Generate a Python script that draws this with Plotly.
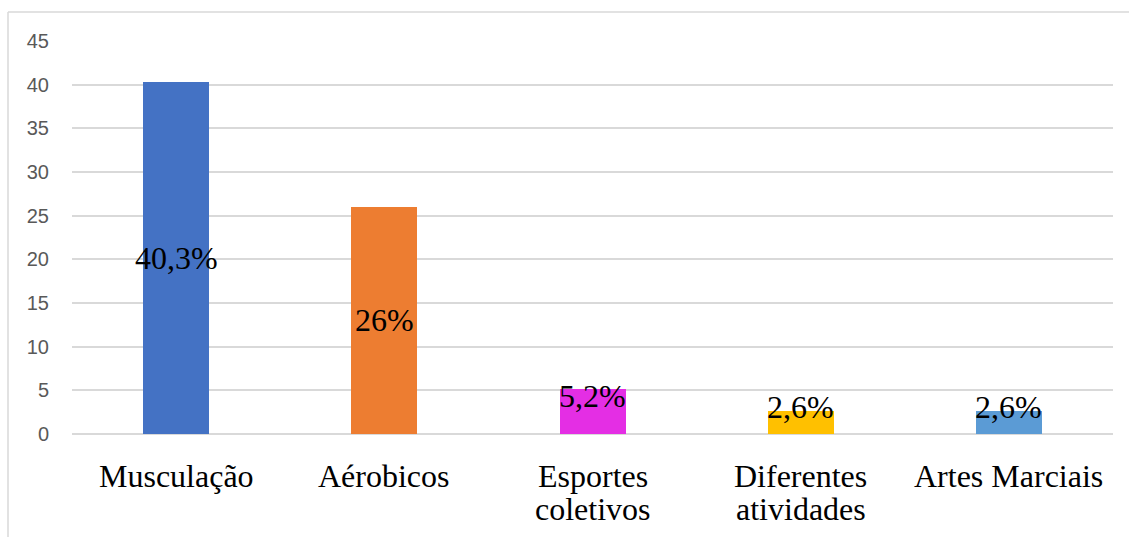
import plotly.graph_objects as go

# Data
categories = ["Musculação", "Aérobicos", "Esportes<br>coletivos", "Diferentes<br>atividades", "Artes Marciais"]
values = [40.3, 26, 5.2, 2.6, 2.6]
value_labels = ["40,3%", "26%", "5,2%", "2,6%", "2,6%"]
bar_colors = ["#4472C4", "#ED7D31", "#E42EE4", "#FFC000", "#5B9BD5"]
y_ticks = [0, 5, 10, 15, 20, 25, 30, 35, 40, 45]

W, H = 1129, 537
ML, MR, MT, MB = 72, 16, 41, 103
plot_w = W - ML - MR
plot_h = H - MT - MB

xs = list(range(len(categories)))

fig = go.Figure(
    go.Bar(
        x=xs,
        y=values,
        marker=dict(color=bar_colors, line=dict(width=0)),
        width=0.317,
        hoverinfo="skip",
    )
)

serif = "Liberation Serif"

# Value labels: centred in tall bars, near the top of short ones
annotations = []
for x, v, t in zip(xs, values, value_labels):
    y = v / 2 if v >= 10 else (v + 3.6) / 2
    annotations.append(dict(
        x=x, y=y, xref="x", yref="y", text=t, showarrow=False,
        yanchor="middle", font=dict(family=serif, size=32, color="#000000"),
    ))

# Category labels, one annotation per line for tight line spacing
for x, cat in zip(xs, categories):
    for i, line in enumerate(cat.split("<br>")):
        annotations.append(dict(
            x=x, y=0, xref="x", yref="paper", text=line, showarrow=False,
            yanchor="middle", yshift=-42 - 33 * i,
            font=dict(family=serif, size=32, color="#000000"),
        ))

# Chart-area frame (top and left edges)
fx = (8 - ML) / plot_w
fy = 1 + (MT - 12) / plot_h
fy_bottom = -MB / plot_h - 0.01
shapes = [
    dict(type="line", xref="paper", yref="paper", x0=fx, x1=1 + MR / plot_w + 0.01,
         y0=fy, y1=fy, line=dict(color="#D9D9D9", width=1.5)),
    dict(type="line", xref="paper", yref="paper", x0=fx, x1=fx,
         y0=fy, y1=fy_bottom, line=dict(color="#D9D9D9", width=1.5)),
]

fig.update_layout(
    width=W, height=H,
    margin=dict(l=ML, r=MR, t=MT, b=MB),
    paper_bgcolor="#FFFFFF",
    plot_bgcolor="#FFFFFF",
    showlegend=False,
    annotations=annotations,
    shapes=shapes,
    bargap=0,
    xaxis=dict(
        range=[-0.5, len(categories) - 0.5],
        showticklabels=False,
        showgrid=False,
        zeroline=False,
        showline=False,
        ticks="",
        fixedrange=True,
    ),
    yaxis=dict(
        range=[0, 45],
        tickvals=y_ticks,
        ticktext=[str(t) for t in y_ticks],
        showgrid=True,
        gridcolor="#D9D9D9",
        gridwidth=1.5,
        zeroline=True,
        zerolinecolor="#D9D9D9",
        zerolinewidth=1.5,
        showline=False,
        ticks="",
        ticklabelstandoff=22,
        tickfont=dict(family="Liberation Sans", size=20, color="#595959"),
        fixedrange=True,
    ),
)

fig.write_html("out.html")
